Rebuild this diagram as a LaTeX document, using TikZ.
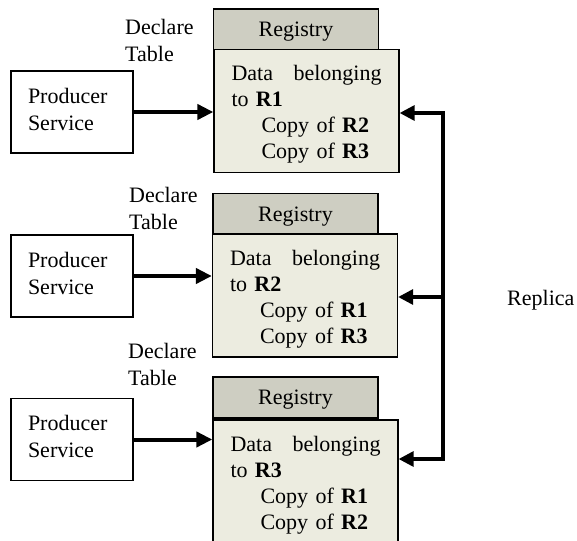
\documentclass[tikz,border=0pt]{standalone}
\usepackage{fontspec}
\setmainfont{Liberation Serif}
\usetikzlibrary{arrows.meta}
\definecolor{hdrgray}{RGB}{206,206,194}
\definecolor{bodybeige}{RGB}{236,236,224}
\newcommand{\topstrut}{\rule{0pt}{22pt}}
\newcommand{\botstrut}{\rule[-6pt]{0pt}{6pt}}
\tikzset{
  txt/.style={font=\fontsize{22}{26}\selectfont},
  prod/.style={txt, font=\fontsize{22}{27}\selectfont, draw, line width=1.3pt, minimum width=122pt, minimum height=82pt, text width=88pt, align=left, inner xsep=17pt, inner ysep=0pt},
  hdr/.style={txt, draw, line width=1.3pt, fill=hdrgray, minimum width=165pt, minimum height=41pt, inner sep=0pt, text depth=0pt},
  databox/.style={txt, draw, line width=1.3pt, fill=bodybeige, minimum width=185pt, minimum height=123pt, text width=150pt, inner xsep=17.5pt, inner ysep=0pt, align=left},
  decl/.style={txt, align=left, inner sep=0pt, anchor=north west, font=\fontsize{22}{27}\selectfont},
  feed/.style={line width=4pt, -{Triangle[length=16pt,width=15pt]}},
  rep/.style={line width=3.2pt, line join=miter},
}
\begin{document}
\begin{tikzpicture}[x=1pt,y=-1pt]
\useasboundingbox (0,0) rectangle (577,540);
% producers
\node[prod] (p1) at (72,112) {Producer\\Service\botstrut};
\node[prod] (p2) at (72,276) {Producer\\Service\botstrut};
\node[prod] (p3) at (72,439.5) {Producer\\Service\botstrut};
% declare labels
\node[decl] (t1) at (125,19) {Declare\\Table};
\node[decl] (t2) at (129,187) {Declare\\Table};
\node[decl] (t3) at (128,343) {Declare\\Table};
% registries
\node[hdr] (h1) at (296,29.5) {Registry};
\node[hdr] (h2) at (295.5,214) {Registry};
\node[hdr] (h3) at (295.5,397.5) {Registry};
\node[databox] (d1) at (306.5,111) {\topstrut Data\hfill belonging\\to \textbf{R1}\\\hspace*{30pt}Copy of \textbf{R2}\\\hspace*{30pt}Copy of \textbf{R3}};
\node[databox] (d2) at (305,295.5) {\topstrut Data\hfill belonging\\to \textbf{R2}\\\hspace*{30pt}Copy of \textbf{R1}\\\hspace*{30pt}Copy of \textbf{R3}};
\node[databox] (d3) at (305.5,481.5) {\topstrut Data\hfill belonging\\to \textbf{R3}\\\hspace*{30pt}Copy of \textbf{R1}\\\hspace*{30pt}Copy of \textbf{R2}};
% feed arrows
\draw[feed] (p1.east) -- (p1.east -| d1.west);
\draw[feed] (p2.east) -- (p2.east -| d2.west);
\draw[feed] (p3.east) -- (p3.east -| d3.west);
% replica bus
\coordinate (b1) at (443,113);
\coordinate (b2) at (443,297);
\coordinate (b3) at (443,459);
\draw[rep, {Triangle[length=15pt,width=15pt]}-{Triangle[length=15pt,width=15pt]}] (b3 -| d3.east) -- (b3) -- (b1) -- (b1 -| d1.east);
\draw[rep, -{Triangle[length=15pt,width=15pt]}] (b2) -- (b2 -| d2.east);
\node[txt, anchor=base west, inner sep=0pt] (rl) at (507,305) {Replica};
\end{tikzpicture}
\end{document}
